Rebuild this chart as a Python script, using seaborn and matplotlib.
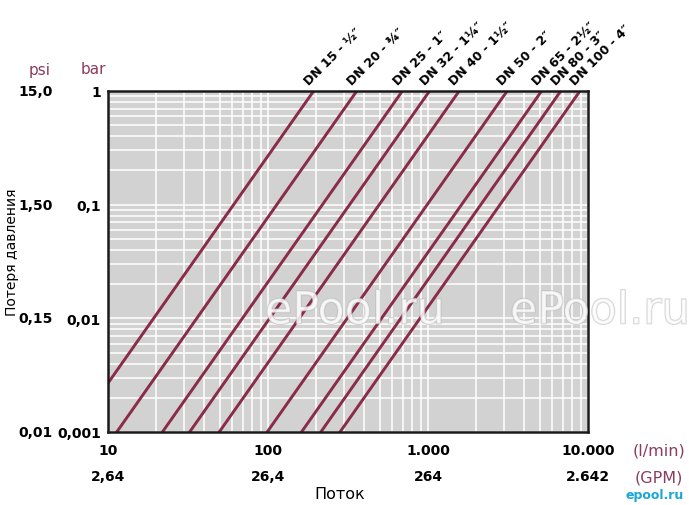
import numpy as np
import pandas as pd
import matplotlib
matplotlib.use("Agg")
import matplotlib.pyplot as plt
import matplotlib.patheffects as pe
import seaborn as sns

# pipe sizes and flow (l/min) read where each line meets 0.001 bar and 1 bar
labels = ["DN 15 - ½″", "DN 20 - ¾″", "DN 25 - 1″", "DN 32 - 1¼″", "DN 40 - 1½″",
          "DN 50 - 2″", "DN 65 - 2½″", "DN 80 - 3″", "DN 100 - 4″"]
flow_low = [6.1, 11.35, 21.9, 32.4, 49.6, 98.9, 162, 214, 282]
flow_high = [193, 359, 692, 1023, 1567, 3126, 5130, 6760, 8910]
p_low = 0.001
p_high = 1.0

x_ticks = [10, 100, 1000, 10000]
x_labels = ["10", "100", "1.000", "10.000"]
gpm_labels = ["2,64", "26,4", "264", "2.642"]
y_ticks = [0.001, 0.01, 0.1, 1]
bar_labels = ["0,001", "0,01", "0,1", "1"]
psi_labels = ["0,01", "0,15", "1,50", "15,0"]

rows = []
for lab, q0, q1 in zip(labels, flow_low, flow_high):
    rows.append({"DN": lab, "flow": q0, "dp": p_low})
    rows.append({"DN": lab, "flow": q1, "dp": p_high})
df = pd.DataFrame(rows)

sns.set_style("ticks", {"axes.facecolor": "#d2d2d2", "text.color": "black",
                        "xtick.color": "black", "ytick.color": "black"})
plt.rcParams["font.family"] = ["DejaVu Sans"]

line_col = "#8a2b48"
unit_col = "#8c3c5c"

fig = plt.figure(figsize=(6.89, 5.06), dpi=100)
ax = fig.add_axes([0.1567, 0.1443, 0.6967, 0.6739])

sns.lineplot(data=df, x="flow", y="dp", units="DN", estimator=None,
             color=line_col, linewidth=2.1, ax=ax, legend=False)

ax.set_xscale("log")
ax.set_yscale("log")
ax.set_xlim(10, 10000)
ax.set_ylim(0.001, 1)
ax.grid(which="both", color="white", linewidth=1.1)
ax.set_axisbelow(True)

ax.set_xticks(x_ticks)
ax.set_xticklabels(x_labels, fontweight="bold", fontsize=10, color="black")
ax.set_yticks(y_ticks)
ax.set_yticklabels(bar_labels, fontweight="bold", fontsize=10, color="black")
ax.tick_params(which="both", length=0)
ax.tick_params(axis="x", pad=8)
ax.tick_params(axis="y", pad=5)
ax.set_xlabel("")
ax.set_ylabel("")
for s in ax.spines.values():
    s.set_linewidth(1.8)
    s.set_color("#1a1a1a")

# second scales
for v, t in zip(y_ticks, psi_labels):
    ax.annotate(t, xy=(0, v), xycoords=("axes fraction", "data"),
                xytext=(-39.5, 0), textcoords="offset points", color="black",
                ha="right", va="center", fontweight="bold", fontsize=10)
for v, t in zip(x_ticks, gpm_labels):
    ax.annotate(t, xy=(v, 0), xycoords=("data", "axes fraction"),
                xytext=(0, -32), textcoords="offset points", color="black",
                ha="center", va="center", fontweight="bold", fontsize=10)

# pipe size labels at the top
for lab, q1 in zip(labels, flow_high):
    ax.annotate(lab, xy=(q1, 1), xycoords="data", xytext=(-2, 3),
                textcoords="offset points", rotation=45, rotation_mode="anchor",
                ha="left", va="bottom", fontweight="bold", fontsize=9,
                color="black", annotation_clip=False)

fig.text(40 / 689, 1 - 70 / 506, "psi", color=unit_col, fontsize=11, ha="center", va="center")
fig.text(93 / 689, 1 - 70 / 506, "bar", color=unit_col, fontsize=11, ha="center", va="center")
fig.text(659 / 689, 1 - 451 / 506, "(l/min)", color=unit_col, fontsize=11.5, ha="center", va="center")
fig.text(659 / 689, 1 - 478 / 506, "(GPM)", color=unit_col, fontsize=11.5, ha="center", va="center")
fig.text(340 / 689, 1 - 495 / 506, "Поток", fontsize=11.5, ha="center", va="center")
fig.text(12 / 689, 1 - 252 / 506, "Потеря давления", fontsize=10, rotation=90,
         ha="center", va="center")

# watermarks
for xp in [355, 600]:
    fig.text(xp / 689, 1 - 312 / 506, "ePool.ru", fontsize=32, color="white", alpha=0.6,
             ha="center", va="center",
             path_effects=[pe.withStroke(linewidth=1.2, foreground="#b8b8b8")])
fig.text(655 / 689, 1 - 496 / 506, "epool.ru", fontsize=9, color="#19a6d8",
         ha="center", va="center", fontweight="bold")

fig.savefig("out.png", dpi=100)
